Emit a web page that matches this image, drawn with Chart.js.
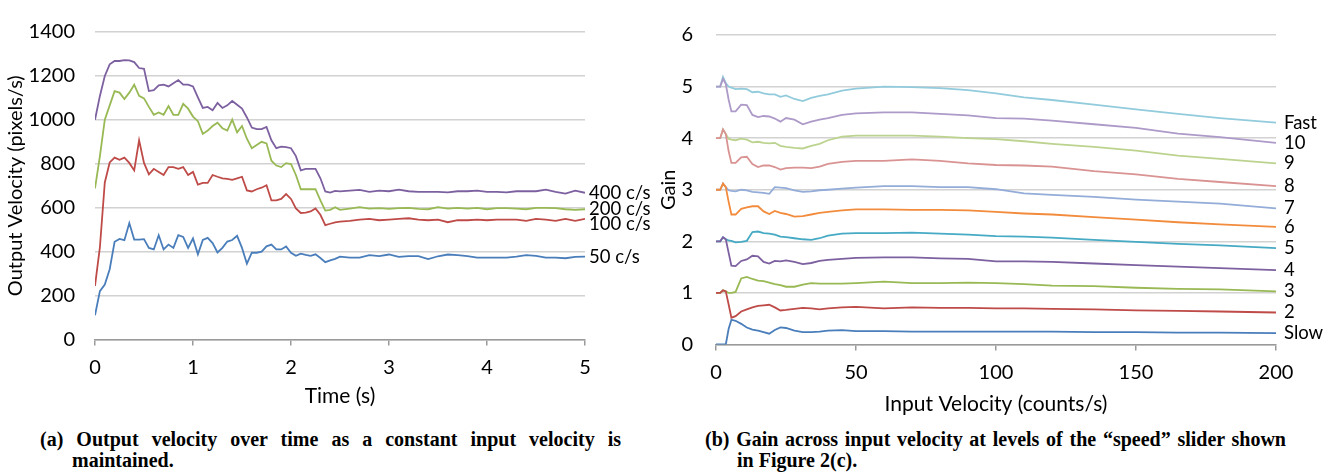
<!DOCTYPE html>
<html>
<head>
<meta charset="utf-8">
<script src="https://cdn.jsdelivr.net/npm/chart.js@4.4.1/dist/chart.umd.min.js"></script>
<style>
  body { margin: 0; width: 1336px; height: 473px; background: #fff; position: relative; overflow: hidden; }
  .panel { position: absolute; top: 0; }
  .caption {
    position: absolute; top: 429px;
    font: bold 20px "Liberation Serif", "Times New Roman", serif;
    line-height: 21px; text-align: justify; color: #000;
    padding-left: 32px; text-indent: -32px;
  }
</style>
</head>
<body>
<div class="panel" style="left:0;width:660px;height:409px"><canvas id="velocity" width="660" height="409"></canvas></div>
<div class="panel" style="left:657px;width:679px;height:417px"><canvas id="gain" width="679" height="417"></canvas></div>
<div class="caption" style="left:40px;width:549px">(a) Output velocity over time as a constant input velocity is maintained.</div>
<div class="caption" style="left:705px;width:549px">(b) Gain across input velocity at levels of the “speed” slider shown in Figure 2(c).</div>
<script>
'use strict';

// ---- (a) output velocity over time ----
const timeSec = [0, 0.05, 0.1, 0.15, 0.2, 0.25, 0.3, 0.35, 0.4, 0.45, 0.5, 0.55, 0.6, 0.65, 0.7, 0.75, 0.8, 0.85, 0.9, 0.95,
  1.0, 1.05, 1.1, 1.15, 1.2, 1.25, 1.3, 1.35, 1.4, 1.45, 1.5, 1.55, 1.6, 1.65, 1.7, 1.75, 1.8, 1.85, 1.9, 1.95,
  2.0, 2.05, 2.1, 2.15, 2.2, 2.25, 2.3, 2.35, 2.4, 2.45, 2.5,
  2.6, 2.7, 2.8, 2.9, 3.0, 3.1, 3.2, 3.3, 3.4, 3.5, 3.6, 3.7, 3.8, 3.9, 4.0, 4.1, 4.2, 4.3, 4.4, 4.5, 4.6, 4.7, 4.8, 4.9, 5.0];

const vel50 = [110, 220, 250, 320, 445, 458, 452, 530, 455, 455, 457, 417, 410, 475, 410, 432, 417, 475, 467, 417,
  460, 388, 453, 463, 439, 396, 417, 446, 453, 472, 417, 345, 395, 395, 400, 424, 432, 410, 410, 424,
  395, 381, 391, 385, 381, 388, 371, 352, 360, 367, 377,
  373, 373, 384, 380, 387, 376, 380, 380, 366, 379, 387, 384, 380, 373, 373, 373, 373, 377, 384, 381, 373, 373, 370, 376, 377];
const vel100 = [244, 420, 715, 806, 828, 818, 828, 804, 770, 907, 804, 752, 777, 763, 749, 785, 785, 777, 785, 749,
  763, 705, 713, 713, 749, 741, 734, 731, 727, 734, 741, 679, 674, 684, 691, 702, 633, 633, 640, 662,
  640, 597, 576, 578, 583, 597, 568, 521, 527, 533, 537,
  540, 546, 549, 543, 546, 549, 552, 546, 543, 546, 534, 543, 543, 546, 543, 546, 546, 546, 540, 549, 546, 540, 549, 540, 549];
const vel200 = [688, 835, 1001, 1066, 1131, 1124, 1095, 1124, 1160, 1109, 1098, 1059, 1023, 1034, 1023, 1063, 1023, 1023, 1073, 1051,
  1015, 994, 936, 951, 972, 987, 962, 951, 1001, 943, 972, 914, 871, 886, 900, 893, 814, 792, 785, 803,
  799, 749, 684, 684, 684, 684, 633, 587, 590, 602, 590,
  596, 603, 596, 598, 595, 598, 599, 595, 593, 603, 596, 599, 596, 599, 593, 598, 598, 596, 593, 599, 599, 598, 593, 590, 593];
const vel400 = [1000, 1109, 1200, 1253, 1268, 1268, 1272, 1271, 1263, 1236, 1232, 1131, 1135, 1157, 1160, 1152, 1167, 1181, 1160, 1160,
  1152, 1102, 1054, 1059, 1044, 1077, 1054, 1066, 1086, 1069, 1051, 1011, 965, 958, 958, 968, 907, 871, 878, 876,
  871, 835, 770, 777, 777, 777, 734, 674, 669, 677, 674,
  678, 681, 672, 678, 675, 682, 675, 672, 672, 672, 670, 675, 675, 678, 672, 672, 670, 675, 675, 675, 682, 672, 664, 678, 668];
const velNames = ['50 c/s', '100 c/s', '200 c/s', '400 c/s'];
const velColors = ['#4a7ebb', '#be4b48', '#98b954', '#7d60a0'];

// ---- (b) gain across input velocity ----
const inputVel = [0, 1.5, 2.5, 3.5, 4.5, 5.5, 7, 9, 11, 13, 15, 17, 19, 21, 23, 25, 28, 31, 34, 37, 40, 45, 50,
  60, 70, 80, 90, 100, 110, 120, 135, 150, 165, 180, 200];

const gainSlow = [0, 0, 0, 0, 0.3, 0.48, 0.46, 0.40, 0.33, 0.29, 0.27, 0.24, 0.21, 0.28, 0.33, 0.32, 0.27, 0.24, 0.24, 0.25, 0.27, 0.28, 0.26,
  0.26, 0.25, 0.25, 0.25, 0.25, 0.25, 0.25, 0.24, 0.24, 0.23, 0.23, 0.22];
const gain2 = [1.0, 1.0, 1.05, 1.03, 0.78, 0.52, 0.55, 0.64, 0.68, 0.72, 0.75, 0.76, 0.77, 0.72, 0.66, 0.67, 0.69, 0.71, 0.70, 0.68, 0.70, 0.72, 0.73,
  0.70, 0.72, 0.71, 0.71, 0.70, 0.70, 0.69, 0.68, 0.66, 0.65, 0.64, 0.62];
const gain3 = [1.0, 1.0, 1.05, 1.03, 1.0, 1.0, 1.02, 1.28, 1.31, 1.27, 1.24, 1.23, 1.20, 1.17, 1.15, 1.12, 1.12, 1.16, 1.19, 1.18, 1.18, 1.18, 1.19,
  1.22, 1.19, 1.19, 1.20, 1.19, 1.17, 1.14, 1.13, 1.10, 1.08, 1.07, 1.03];
const gain4 = [2.0, 2.0, 2.08, 2.04, 1.78, 1.53, 1.52, 1.62, 1.65, 1.72, 1.71, 1.60, 1.57, 1.62, 1.61, 1.63, 1.60, 1.56, 1.58, 1.62, 1.64, 1.66, 1.68,
  1.69, 1.69, 1.67, 1.66, 1.61, 1.61, 1.60, 1.57, 1.54, 1.51, 1.48, 1.44];
const gain5 = [2.0, 2.0, 2.08, 2.04, 2.02, 2.01, 1.98, 1.99, 2.01, 2.18, 2.19, 2.16, 2.15, 2.13, 2.09, 2.08, 2.06, 2.04, 2.03, 2.06, 2.11, 2.15, 2.16,
  2.16, 2.17, 2.15, 2.13, 2.10, 2.09, 2.07, 2.03, 1.99, 1.95, 1.92, 1.87];
const gain6 = [3.0, 3.0, 3.12, 3.05, 2.77, 2.52, 2.52, 2.63, 2.66, 2.68, 2.68, 2.58, 2.53, 2.59, 2.55, 2.53, 2.48, 2.49, 2.52, 2.55, 2.57, 2.60, 2.62,
  2.62, 2.61, 2.61, 2.60, 2.57, 2.54, 2.52, 2.47, 2.42, 2.37, 2.33, 2.28];
const gain7 = [3.0, 3.0, 3.12, 3.05, 2.99, 2.98, 2.97, 3.0, 2.99, 2.96, 2.95, 2.94, 2.92, 3.05, 3.04, 3.03, 2.99, 2.96, 2.97, 2.99, 3.0, 3.02, 3.04,
  3.07, 3.07, 3.05, 3.05, 3.01, 2.93, 2.90, 2.86, 2.81, 2.77, 2.73, 2.64];
const gain8 = [4.0, 4.0, 4.17, 4.08, 3.75, 3.52, 3.52, 3.63, 3.64, 3.50, 3.44, 3.47, 3.47, 3.44, 3.39, 3.42, 3.43, 3.43, 3.42, 3.45, 3.50, 3.54, 3.56,
  3.56, 3.59, 3.56, 3.51, 3.48, 3.47, 3.45, 3.36, 3.30, 3.21, 3.15, 3.07];
const gain9 = [4.0, 4.0, 4.17, 4.08, 3.99, 3.97, 3.96, 3.99, 3.97, 3.92, 3.93, 3.91, 3.90, 3.91, 3.85, 3.83, 3.81, 3.80, 3.85, 3.89, 3.96, 4.03, 4.05,
  4.05, 4.05, 4.03, 4.00, 3.98, 3.94, 3.89, 3.83, 3.76, 3.66, 3.60, 3.51];
const gain10 = [5.0, 5.0, 5.15, 5.05, 4.75, 4.52, 4.52, 4.65, 4.64, 4.45, 4.41, 4.43, 4.42, 4.38, 4.32, 4.39, 4.36, 4.27, 4.32, 4.36, 4.39, 4.45, 4.48,
  4.50, 4.50, 4.47, 4.44, 4.39, 4.38, 4.34, 4.27, 4.20, 4.09, 4.02, 3.91];
const gainFast = [5.0, 5.0, 5.19, 5.07, 5.0, 4.98, 4.95, 4.96, 4.95, 4.89, 4.90, 4.87, 4.85, 4.85, 4.80, 4.83, 4.76, 4.72, 4.78, 4.82, 4.85, 4.92, 4.96,
  5.0, 4.99, 4.97, 4.93, 4.87, 4.79, 4.74, 4.65, 4.56, 4.47, 4.39, 4.30];
const gainNames = ['Slow', '2', '3', '4', '5', '6', '7', '8', '9', '10', 'Fast'];
const gainColors = ['#4a7ebb', '#be4b48', '#98b954', '#7d60a0', '#46aac4', '#f38b3c',
  '#93acd8', '#d99392', '#bcd38f', '#ad9ac8', '#92cbdc'];

const fontFamily = 'Lato, "Noto Sans", sans-serif';
const tickFont = { family: fontFamily, size: 20 };

// name labels at the right end of every line
const endLabels = {
  id: 'endLabels',
  afterDatasetsDraw(chart, args, opts) {
    let ctx = chart.ctx;
    let items = chart.data.datasets.map((ds, i) => {
      let pts = chart.getDatasetMeta(i).data;
      return { text: ds.label, y: pts[pts.length - 1].y };
    }).sort((a, b) => a.y - b.y);
    for (let i = 1; i < items.length; i++) {
      if (items[i].y - items[i - 1].y < opts.gap) items[i].y = items[i - 1].y + opts.gap;
    }
    ctx.save();
    ctx.font = '18.5px ' + fontFamily;
    ctx.fillStyle = '#000';
    ctx.textBaseline = 'middle';
    items.forEach(it => ctx.fillText(it.text, chart.chartArea.right + opts.dx, it.y));
    ctx.restore();
  }
};

function lineSets(xs, series, names, colors, width) {
  return series.map((vals, i) => ({
    label: names[i],
    data: xs.map((x, j) => ({ x: x, y: vals[j] })),
    borderColor: colors[i],
    borderWidth: width,
    pointRadius: 0,
    tension: 0,
    fill: false
  }));
}

function chartOptions(cfg) {
  return {
    responsive: false,
    animation: false,
    layout: { padding: cfg.padding },
    plugins: {
      legend: { display: false },
      tooltip: { enabled: false },
      endLabels: { dx: cfg.labelDx, gap: 15 }
    },
    scales: {
      x: {
        type: 'linear', min: cfg.xMin, max: cfg.xMax,
        ticks: { stepSize: cfg.xStep, color: '#000', font: tickFont, padding: 10, callback: v => String(v) },
        grid: { drawOnChartArea: false, drawTicks: true, tickLength: 6, color: '#9a9a9a', lineWidth: 1.5 },
        border: { color: '#9a9a9a', width: 1.5 },
        title: { display: true, text: cfg.xTitle, color: '#000', font: { family: fontFamily, size: 21 }, padding: 0 },
        afterFit: s => { s.height = cfg.xHeight; }
      },
      y: {
        min: cfg.yMin, max: cfg.yMax,
        ticks: { stepSize: cfg.yStep, color: '#000', font: tickFont, padding: cfg.yTickPad, callback: v => String(v) },
        grid: { color: '#d2d2d2', lineWidth: 1.5, drawTicks: false },
        border: { display: false },
        title: { display: true, text: cfg.yTitle, color: '#000', font: { family: fontFamily, size: 20 }, padding: 0 },
        afterFit: s => { s.width = cfg.yWidth; }
      }
    }
  };
}

new Chart(document.getElementById('velocity').getContext('2d'), {
  type: 'line',
  data: { datasets: lineSets(timeSec, [vel50, vel100, vel200, vel400], velNames, velColors, 1.8) },
  options: chartOptions({
    padding: { left: 4, right: 75, top: 16, bottom: 0 },
    xMin: 0, xMax: 5, xStep: 1, xTitle: 'Time (s)', xHeight: 69.5,
    yMin: 0, yMax: 1400, yStep: 200, yTitle: 'Output Velocity (pixels/s)', yWidth: 91, yTickPad: 20,
    labelDx: 4
  }),
  plugins: [endLabels]
});

new Chart(document.getElementById('gain').getContext('2d'), {
  type: 'line',
  data: {
    datasets: lineSets(inputVel,
      [gainSlow, gain2, gain3, gain4, gain5, gain6, gain7, gain8, gain9, gain10, gainFast],
      gainNames, gainColors, 1.8)
  },
  options: chartOptions({
    padding: { left: 0, right: 60, top: 15, bottom: 0 },
    xMin: 0, xMax: 200, xStep: 50, xTitle: 'Input Velocity (counts/s)', xHeight: 72.5,
    yMin: 0, yMax: 6, yStep: 1, yTitle: 'Gain', yWidth: 59, yTickPad: 23,
    labelDx: 8
  }),
  plugins: [endLabels]
});
</script>
</body>
</html>
